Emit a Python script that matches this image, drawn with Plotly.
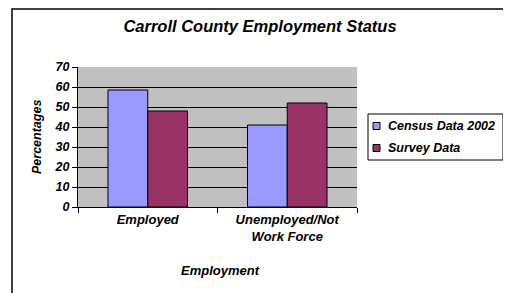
import plotly.graph_objects as go

categories = ["Employed", "Unemployed/Not<br>Work Force"]
series_names = ["Census Data 2002", "Survey Data"]
census_values = [58.5, 41]
survey_values = [48, 52]
y_ticks = [0, 10, 20, 30, 40, 50, 60, 70]
colors = ["#9999FF", "#993366"]

W, H = 511, 293
OFF = 8  # browser default body margin offsets the figure by 8px
L, R, T, B = 78, 357, 67, 207  # plot area in page px
pw, ph = R - L, B - T

def px(x):
    return (x - L) / pw

def py(y):
    return (B - y) / ph

FONT = "Liberation Sans, Arial, sans-serif"
bi = dict(family=FONT, color="black", weight="bold", style="italic")

fig = go.Figure()
for name, vals, col in zip(series_names, [census_values, survey_values], colors):
    fig.add_trace(go.Bar(x=categories, y=vals, name=name,
                         marker=dict(color=col, line=dict(color="black", width=1))))

fig.update_layout(
    width=W, height=H,
    margin=dict(l=L - OFF, r=W - (R - OFF), t=T - OFF, b=H - (B - OFF), pad=0,
                autoexpand=False),
    paper_bgcolor="white", plot_bgcolor="#C0C0C0",
    barmode="group", bargap=0.43, bargroupgap=0,
    showlegend=False,
    title=dict(text="Carroll County Employment Status", x=(260 - OFF) / W,
               xref="container", xanchor="center", y=1 - (26 - OFF) / H,
               yanchor="middle", font=dict(size=16.5, **bi), automargin=False),
)
fig.update_yaxes(range=[0, 70], tickvals=y_ticks, ticks="outside", ticklen=5,
                 tickcolor="black", showline=True, linecolor="black", linewidth=1,
                 showgrid=True, gridcolor="black", gridwidth=1, zeroline=False,
                 tickfont=dict(size=12.5, **bi), automargin=False)
fig.update_xaxes(showline=True, linecolor="black", linewidth=1, ticks="outside",
                 tickson="boundaries", ticklen=5, tickcolor="black",
                 tickfont=dict(size=13, **bi), automargin=False)

# axis titles
fig.add_annotation(text="Percentages", xref="paper", yref="paper", x=px(37), y=0.5,
                   textangle=-90, showarrow=False, xanchor="center", yanchor="middle",
                   font=dict(size=12.5, **bi))
fig.add_annotation(text="Employment", xref="paper", yref="paper", x=px(220), y=py(270),
                   showarrow=False, xanchor="center", yanchor="middle",
                   font=dict(size=13, **bi))

# outer chart border (bottom edge off-page)
fig.add_shape(type="rect", xref="paper", yref="paper", x0=px(12), x1=px(507),
              y0=py(320), y1=py(9), line=dict(color="black", width=1.5), layer="below")

# custom legend
fig.add_shape(type="rect", xref="paper", yref="paper", x0=px(368), x1=px(503),
              y0=py(160), y1=py(114), line=dict(color="black", width=1),
              fillcolor="white")
for i, (name, col) in enumerate(zip(series_names, colors)):
    yc = 126 + 22 * i
    fig.add_shape(type="rect", xref="paper", yref="paper", x0=px(373), x1=px(380),
                  y0=py(yc + 3.5), y1=py(yc - 3.5), line=dict(color="black", width=1),
                  fillcolor=col)
    fig.add_annotation(text=name, xref="paper", yref="paper", x=px(386), y=py(yc),
                       showarrow=False, xanchor="left", yanchor="middle",
                       font=dict(size=12.5, **bi))

fig.write_html("out.html")
